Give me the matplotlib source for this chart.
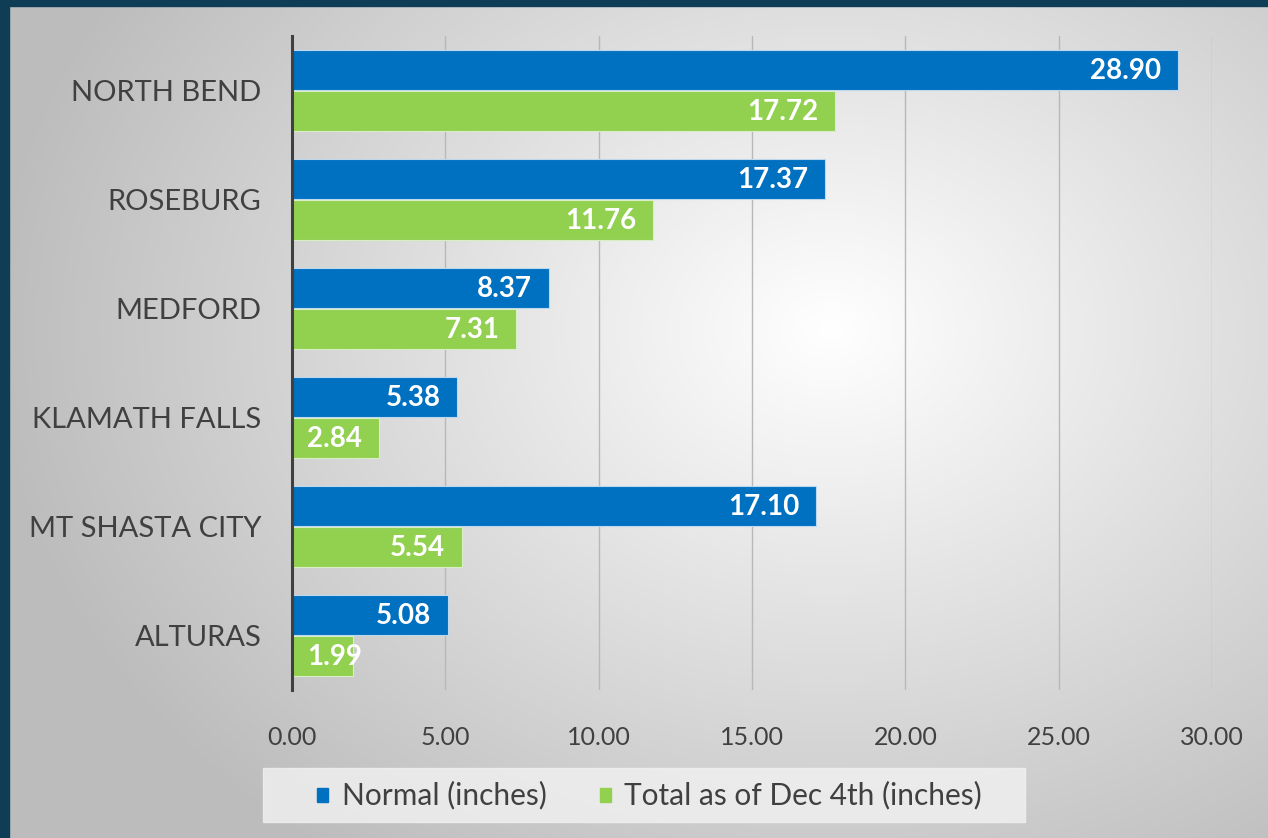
import numpy as np
import matplotlib.pyplot as plt
from matplotlib.patches import Rectangle

cities = ["NORTH BEND", "ROSEBURG", "MEDFORD", "KLAMATH FALLS", "MT SHASTA CITY", "ALTURAS"]
normal = [28.90, 17.37, 8.37, 5.38, 17.10, 5.08]
total = [17.72, 11.76, 7.31, 2.84, 5.54, 1.99]
series_names = ["Normal (inches)", "Total as of Dec 4th (inches)"]
xticks = [0, 5, 10, 15, 20, 25, 30]

blue = "#0070C0"
green = "#92D050"
W, H = 1268, 838

plt.rcParams['font.family'] = ['Lato', 'DejaVu Sans']

fig = plt.figure(figsize=(W / 100, H / 100), dpi=100)

# radial gradient background
bg = fig.add_axes([0, 0, 1, 1], zorder=-5)
yy, xx = np.mgrid[0:H, 0:W]
r = np.sqrt(((xx - 830) / 900.0) ** 2 + ((yy - 330) / 700.0) ** 2)
v = np.clip(1.0 - 0.28 * r, 0.74, 1.0)
bg.imshow(np.dstack([v, v, v]), extent=[0, W, H, 0], aspect='auto')
bg.add_patch(Rectangle((0, 0), 9, H, color="#0f3d55"))
bg.add_patch(Rectangle((0, 0), W, 6, color="#0f3d55"))
bg.set_xlim(0, W)
bg.set_ylim(H, 0)
bg.axis('off')

ax = fig.add_axes([292 / W, (H - 690) / H, 920 / W, 654 / H])
ax.patch.set_alpha(0)

y = np.arange(len(cities))
h = 0.367
off = 0.188
b1 = ax.barh(y - off, normal, height=h, color=blue, edgecolor="#bcd8ee", linewidth=0.8, zorder=3)
b2 = ax.barh(y + off, total, height=h, color=green, edgecolor="#d8eec4", linewidth=0.8, zorder=3)

for bars, vals in ((b1, normal), (b2, total)):
    for bar, val in zip(bars, vals):
        yc = bar.get_y() + bar.get_height() / 2
        if val < 2.5:
            # too short: label starts just inside the bar base
            ax.annotate("%.2f" % val, (0, yc), xytext=(11, -1), textcoords='offset points',
                        ha='left', va='center', color='white', fontsize=20,
                        fontweight='bold', zorder=4)
        else:
            ax.annotate("%.2f" % val, (bar.get_width(), yc), xytext=(-12, -1),
                        textcoords='offset points', ha='right', va='center',
                        color='white', fontsize=20, fontweight='bold', zorder=4)

ax.set_xlim(0, 30)
ax.set_ylim(len(cities) - 0.5, -0.5)
ax.set_xticks(xticks)
ax.set_xticklabels(["%.2f" % t for t in xticks])
ax.set_yticks(y)
ax.set_yticklabels(cities)
ax.tick_params(axis='x', length=0, pad=26, labelsize=18, labelcolor="#404040")
ax.tick_params(axis='y', length=0, pad=22, labelsize=21, labelcolor="#404040")
ax.grid(axis='x', color="#b8b8b8", linewidth=1, zorder=0)
for s in ("top", "right", "bottom"):
    ax.spines[s].set_visible(False)
ax.spines['left'].set_color("#404040")
ax.spines['left'].set_linewidth(2.2)
ax.spines['left'].set_zorder(5)

# legend drawn in pixel coordinates
bg.add_patch(Rectangle((263, 768), 762, 54, color="#f2f2f2", alpha=0.8, zorder=2))
bg.add_patch(Rectangle((317, 788), 11, 14, color=blue, zorder=3))
bg.text(342, 795, series_names[0], fontsize=21.5, color="#404040", va='center', zorder=3)
bg.add_patch(Rectangle((600, 788), 11, 14, color=green, zorder=3))
bg.text(624, 795, series_names[1], fontsize=21.5, color="#404040", va='center', zorder=3)

fig.savefig("out.png", dpi=100)
